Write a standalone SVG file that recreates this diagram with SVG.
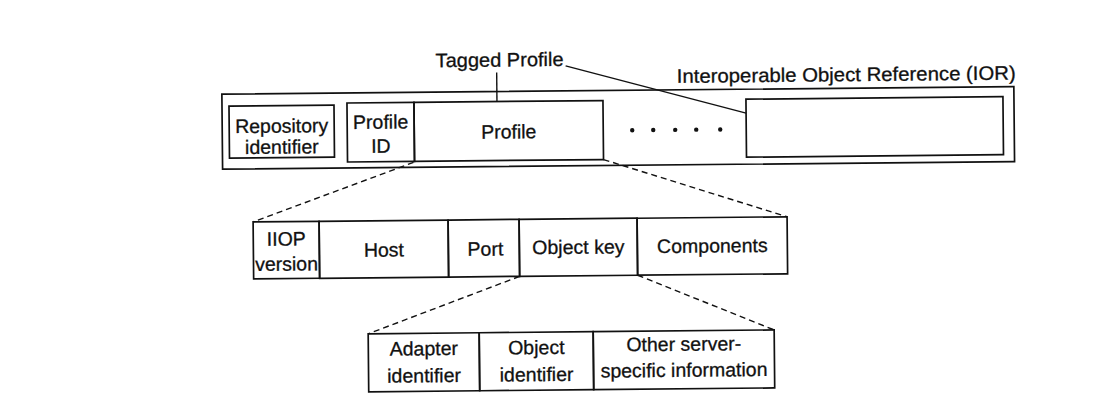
<svg xmlns="http://www.w3.org/2000/svg" width="1114" height="419" viewBox="0 0 1114 419">
  <style>
    .box { fill: none; stroke: #111; stroke-width: 1.7; }
    .conn { fill: none; stroke: #111; stroke-width: 1.4; }
    .dash { fill: none; stroke: #111; stroke-width: 1.4; stroke-dasharray: 6 4; }
    text { font-family: "Liberation Sans", Arial, sans-serif; font-size: 19.5px; fill: #111; stroke: #111; stroke-width: 0.3; }
    .c { text-anchor: middle; }
  </style>
  <rect width="1114" height="419" fill="#fff"/>
  <g transform="rotate(-0.55 557 210)">
    <g id="ior">
      <rect class="box" x="223" y="91" width="792" height="75"/>
      <text x="678" y="84" textLength="339" lengthAdjust="spacingAndGlyphs">Interoperable Object Reference (IOR)</text>
    </g>
    <g id="repository">
      <rect class="box" x="230" y="103" width="105" height="52"/>
      <text class="c" x="282.5" y="130">Repository</text>
      <text class="c" x="282.5" y="151">identifier</text>
    </g>
    <g id="profile-id">
      <rect class="box" x="348" y="101" width="67" height="59"/>
      <text class="c" x="381.5" y="127">Profile</text>
      <text class="c" x="381.5" y="151">ID</text>
    </g>
    <g id="profile">
      <rect class="box" x="415" y="101" width="189" height="59"/>
      <text class="c" x="509.5" y="138">Profile</text>
    </g>
    <g id="tagged-profile-label">
      <text x="437" y="66" textLength="128" lengthAdjust="spacingAndGlyphs">Tagged Profile</text>
    </g>
    <g id="other-profile">
      <rect class="box" x="747" y="101" width="257" height="58"/>
    </g>
    <g id="dots" fill="#111">
      <circle cx="633" cy="131" r="2.2"/>
      <circle cx="654" cy="131" r="2.2"/>
      <circle cx="676" cy="131" r="2.2"/>
      <circle cx="697" cy="131" r="2.2"/>
      <circle cx="721" cy="131" r="2.2"/>
    </g>
    <g id="iiop-version">
      <rect class="box" x="253" y="219" width="66" height="57"/>
      <text class="c" x="286" y="243">IIOP</text>
      <text class="c" x="286" y="268">version</text>
    </g>
    <g id="host">
      <rect class="box" x="319" y="219" width="129" height="57"/>
      <text class="c" x="383.5" y="255">Host</text>
    </g>
    <g id="port">
      <rect class="box" x="448" y="219" width="71" height="57"/>
      <text class="c" x="485" y="255">Port</text>
    </g>
    <g id="object-key">
      <rect class="box" x="519" y="219" width="118" height="57"/>
      <text class="c" x="578" y="254">Object key</text>
    </g>
    <g id="components">
      <rect class="box" x="637" y="219" width="150" height="57"/>
      <text class="c" x="712" y="254">Components</text>
    </g>
    <g id="adapter-identifier">
      <rect class="box" x="367" y="332" width="111" height="58"/>
      <text class="c" x="422.5" y="354">Adapter</text>
      <text class="c" x="422.5" y="381">identifier</text>
    </g>
    <g id="object-identifier">
      <rect class="box" x="478" y="332" width="114" height="58"/>
      <text class="c" x="535" y="354">Object</text>
      <text class="c" x="535" y="381">identifier</text>
    </g>
    <g id="other-info">
      <rect class="box" x="592" y="332" width="181" height="58"/>
      <text class="c" x="682.5" y="352">Other server-</text>
      <text class="c" x="682.5" y="378">specific information</text>
    </g>
    <g id="connectors">
      <line class="conn" x1="498" y1="72" x2="498" y2="101"/>
      <line class="conn" x1="567" y1="66" x2="747" y2="115"/>
      <line class="dash" x1="414" y1="161" x2="253" y2="219"/>
      <line class="dash" x1="604" y1="160" x2="787" y2="219"/>
      <line class="dash" x1="519" y1="276" x2="367" y2="332"/>
      <line class="dash" x1="637" y1="276" x2="773" y2="332"/>
    </g>
  </g>
</svg>
